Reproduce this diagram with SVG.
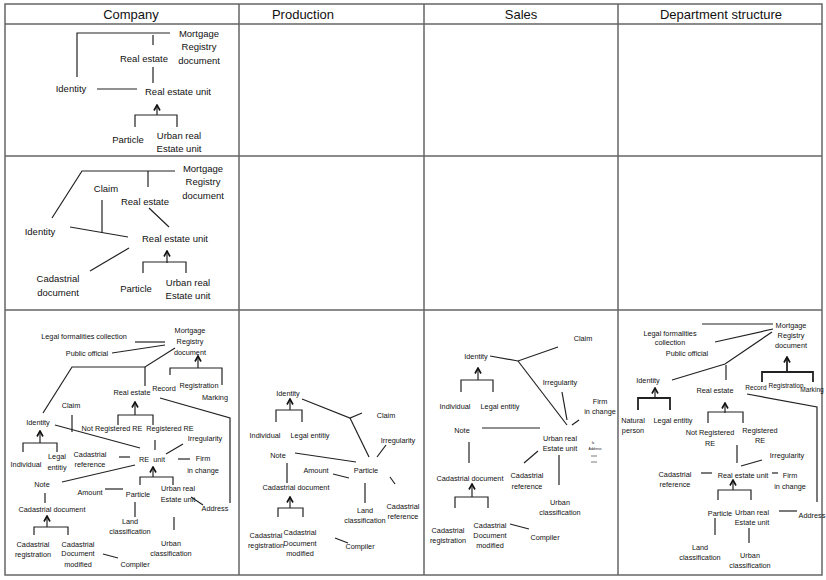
<svg xmlns="http://www.w3.org/2000/svg" width="826" height="580" viewBox="0 0 826 580">
<style>
text{font-family:"Liberation Sans",Arial,sans-serif;fill:#111;text-anchor:middle;dominant-baseline:central}
.h{font-size:13px}
.m{font-size:9.5px}
.t{font-size:7.3px}
.n{font-size:6.6px}
.s{font-size:3.5px}
.grid{fill:none;stroke:#666;stroke-width:1.5}
.c path,.c line{fill:none;stroke:#222;stroke-width:1.2}
.c .b{stroke-width:1.8}
</style>
<defs>
<marker id="up" markerUnits="userSpaceOnUse" markerWidth="8" markerHeight="8" viewBox="0 0 8 8" refX="6.5" refY="4" orient="auto"><path d="M1,1 L6.5,4 L1,7" fill="none" stroke="#111" stroke-width="1.6"/></marker>
</defs>
<rect width="826" height="580" fill="#fff"/>
<g id="table">
<rect class="grid" x="5" y="4" width="817" height="571"/>
<path class="grid" d="M5,24 H822 M5,156 H822 M5,310 H822 M239,4 V575 M424,4 V575 M618,4 V575"/>
</g>
<g id="headers">
<text class="h" x="131" y="14">Company</text>
<text class="h" x="303" y="14">Production</text>
<text class="h" x="521" y="14">Sales</text>
<text class="h" x="721" y="14">Department structure</text>
</g>

<!-- Row 1 -->
<g id="r1-mortgage"><text class="m" x="199" y="33">Mortgage</text><text class="m" x="199" y="46">Registry</text><text class="m" x="199" y="60">document</text></g>
<g id="r1-realestate"><text class="m" x="144" y="58">Real estate</text></g>
<g id="r1-identity"><text class="m" x="71" y="88">Identity</text></g>
<g id="r1-reunit"><text class="m" x="178" y="91">Real estate unit</text></g>
<g id="r1-particle"><text class="m" x="128" y="139">Particle</text></g>
<g id="r1-urban"><text class="m" x="179" y="135">Urban real</text><text class="m" x="179" y="148">Estate unit</text></g>
<g id="r1-connectors" class="c">
<path d="M77,77 V33 H170"/>
<path d="M153,35 V45"/>
<path d="M153,67 V83"/>
<path d="M97,89 H137"/>
<line x1="157" y1="115" x2="157" y2="105" marker-end="url(#up)"/>
<path d="M135,127 V115 H177 V127"/>
</g>

<!-- Row 2 -->
<g id="r2-mortgage"><text class="m" x="203" y="168">Mortgage</text><text class="m" x="203" y="181">Registry</text><text class="m" x="203" y="195">document</text></g>
<g id="r2-claim"><text class="m" x="106" y="188">Claim</text></g>
<g id="r2-realestate"><text class="m" x="145" y="201">Real estate</text></g>
<g id="r2-identity"><text class="m" x="40" y="231">Identity</text></g>
<g id="r2-reunit"><text class="m" x="175" y="238">Real estate unit</text></g>
<g id="r2-cadastrial"><text class="m" x="58" y="278">Cadastrial</text><text class="m" x="58" y="292">document</text></g>
<g id="r2-particle"><text class="m" x="136" y="288">Particle</text></g>
<g id="r2-urban"><text class="m" x="188" y="282">Urban real</text><text class="m" x="188" y="295">Estate unit</text></g>
<g id="r2-connectors" class="c">
<path d="M52,218 L82,171 H175"/>
<path d="M148,171 V187"/>
<path d="M102,200 V233"/>
<path d="M70,227 L128,237"/>
<path d="M149,208 L169,227"/>
<path d="M129,248 L90,271"/>
<line x1="167" y1="263" x2="167" y2="251" marker-end="url(#up)"/>
<path d="M143,273 V262 H186 V273"/>
</g>

<!-- Row 3 Company -->
<g id="c-legal"><text class="t" x="84" y="336">Legal formalities collection</text></g>
<g id="c-public"><text class="t" x="87" y="353">Public official</text></g>
<g id="c-mortgage"><text class="t" x="190" y="330">Mortgage</text><text class="t" x="190" y="341">Registry</text><text class="t" x="190" y="352">document</text></g>
<g id="c-realestate"><text class="t" x="132" y="392">Real estate</text></g>
<g id="c-record"><text class="t" x="164" y="388">Record</text></g>
<g id="c-registration"><text class="t" x="199" y="385">Registration</text></g>
<g id="c-marking"><text class="t" x="215" y="397">Marking</text></g>
<g id="c-claim"><text class="t" x="71" y="405">Claim</text></g>
<g id="c-identity"><text class="t" x="38" y="422">Identity</text></g>
<g id="c-notreg"><text class="t" x="112" y="428">Not Registered RE</text></g>
<g id="c-reg"><text class="t" x="170" y="428">Registered RE</text></g>
<g id="c-irregularity"><text class="t" x="205" y="438">Irregularity</text></g>
<g id="c-individual"><text class="t" x="26" y="464">Individual</text></g>
<g id="c-legalentity"><text class="t" x="57" y="456">Legal</text><text class="t" x="57" y="467">entitiy</text></g>
<g id="c-cadref"><text class="t" x="90" y="454">Cadastrial</text><text class="t" x="90" y="464">reference</text></g>
<g id="c-reunit"><text class="t" x="152" y="459" xml:space="preserve">RE  unit</text></g>
<g id="c-firm"><text class="t" x="203" y="458">Firm</text><text class="t" x="203" y="470">in change</text></g>
<g id="c-note"><text class="t" x="42" y="484">Note</text></g>
<g id="c-amount"><text class="t" x="90" y="492">Amount</text></g>
<g id="c-particle"><text class="t" x="138" y="494">Particle</text></g>
<g id="c-urban"><text class="t" x="178" y="488">Urban real</text><text class="t" x="178" y="499">Estate unit</text></g>
<g id="c-address"><text class="t" x="215" y="508">Address</text></g>
<g id="c-caddoc"><text class="t" x="52" y="509">Cadastrial document</text></g>
<g id="c-land"><text class="t" x="130" y="521">Land</text><text class="t" x="130" y="531">classification</text></g>
<g id="c-urbanclass"><text class="t" x="171" y="543">Urban</text><text class="t" x="171" y="553">classification</text></g>
<g id="c-cadreg"><text class="t" x="33" y="544">Cadastrial</text><text class="t" x="33" y="554">registration</text></g>
<g id="c-caddocmod"><text class="t" x="78" y="544">Cadastrial</text><text class="t" x="78" y="553">Document</text><text class="t" x="78" y="564">modified</text></g>
<g id="c-compiler"><text class="t" x="135" y="564">Compiler</text></g>
<g id="c-connectors" class="c">
<path d="M135,342 H165"/>
<path d="M112,353 L165,345"/>
<path d="M175,348 L145,367 H72 L43,413"/>
<path d="M145,367 V386"/>
<path d="M170,375 V368 H222 V385"/>
<line x1="198" y1="368" x2="198" y2="356" marker-end="url(#up)"/>
<path d="M160,398 L230,418 V503"/>
<path d="M191,497 L203,505"/>
<path d="M72,415 V432"/>
<line x1="135" y1="415" x2="135" y2="402" marker-end="url(#up)"/>
<path d="M118,425 V415 H153 V425"/>
<path d="M55,425 L140,448"/>
<path d="M155,440 V450"/>
<path d="M183,444 L166,454"/>
<line x1="40" y1="443" x2="40" y2="431" marker-end="url(#up)"/>
<path d="M23,452 V443 H57 V452"/>
<path d="M119,457 H130"/>
<path d="M178,459 H190"/>
<path d="M135,465 L62,482"/>
<path d="M45,493 V503"/>
<line x1="153" y1="477" x2="153" y2="467" marker-end="url(#up)"/>
<path d="M140,485 V477 H173 V485"/>
<path d="M105,489 H123"/>
<path d="M135,502 V517"/>
<path d="M174,517 V530"/>
<line x1="47" y1="527" x2="47" y2="516" marker-end="url(#up)"/>
<path d="M34,535 V527 H68 V535"/>
<path d="M103,554 L118,558"/>
</g>

<!-- Row 3 Production -->
<g id="p-identity"><text class="t" x="288" y="393">Identity</text></g>
<g id="p-claim"><text class="t" x="386" y="415">Claim</text></g>
<g id="p-individual"><text class="t" x="265" y="435">Individual</text></g>
<g id="p-legalentity"><text class="t" x="310" y="435">Legal entitiy</text></g>
<g id="p-irregularity"><text class="t" x="398" y="440">Irregularity</text></g>
<g id="p-note"><text class="t" x="278" y="455">Note</text></g>
<g id="p-particle"><text class="t" x="366" y="470">Particle</text></g>
<g id="p-amount"><text class="t" x="316" y="470">Amount</text></g>
<g id="p-caddoc"><text class="t" x="296" y="487">Cadastrial document</text></g>
<g id="p-land"><text class="t" x="365" y="510">Land</text><text class="t" x="365" y="520">classification</text></g>
<g id="p-cadref"><text class="t" x="403" y="506">Cadastrial</text><text class="t" x="403" y="516">reference</text></g>
<g id="p-cadreg"><text class="t" x="266" y="535">Cadastrial</text><text class="t" x="266" y="545">registration</text></g>
<g id="p-caddocmod"><text class="t" x="300" y="532">Cadastrial</text><text class="t" x="300" y="543">Document</text><text class="t" x="300" y="553">modified</text></g>
<g id="p-compiler"><text class="t" x="360" y="546">Compiler</text></g>
<g id="p-connectors" class="c">
<path d="M302,399 L350,418 L362,413"/>
<path d="M350,418 L369,457"/>
<line x1="290" y1="410" x2="290" y2="399" marker-end="url(#up)"/>
<path d="M276,422 V410 H302 V422"/>
<path d="M386,445 L377,457"/>
<path d="M295,453 L356,462"/>
<path d="M333,474 L349,478"/>
<path d="M390,477 L395,484"/>
<path d="M287,463 V483"/>
<path d="M365,483 V503"/>
<line x1="290" y1="508" x2="290" y2="497" marker-end="url(#up)"/>
<path d="M278,517 V508 H303 V517"/>
<path d="M335,538 L348,543"/>
</g>

<!-- Row 3 Sales -->
<g id="s-claim"><text class="t" x="583" y="338">Claim</text></g>
<g id="s-identity"><text class="t" x="476" y="356">Identity</text></g>
<g id="s-individual"><text class="t" x="455" y="406">Individual</text></g>
<g id="s-legalentity"><text class="t" x="500" y="406">Legal entitiy</text></g>
<g id="s-irregularity"><text class="t" x="560" y="382">Irregularity</text></g>
<g id="s-firm"><text class="t" x="600" y="401">Firm</text><text class="t" x="600" y="411">in change</text></g>
<g id="s-note"><text class="t" x="462" y="430">Note</text></g>
<g id="s-urban"><text class="t" x="560" y="438">Urban real</text><text class="t" x="560" y="448">Estate unit</text></g>
<g id="s-isaddress"><text class="s" x="593" y="443">Is</text><text class="s" x="595" y="449">Address</text></g>
<g id="s-caddoc"><text class="t" x="470" y="478">Cadastrial document</text></g>
<g id="s-cadref"><text class="t" x="527" y="475">Cadastrial</text><text class="t" x="527" y="486">reference</text></g>
<g id="s-urbanclass"><text class="t" x="560" y="502">Urban</text><text class="t" x="560" y="512">classification</text></g>
<g id="s-cadreg"><text class="t" x="448" y="530">Cadastrial</text><text class="t" x="448" y="540">registration</text></g>
<g id="s-caddocmod"><text class="t" x="490" y="525">Cadastrial</text><text class="t" x="490" y="535">Document</text><text class="t" x="490" y="545">modified</text></g>
<g id="s-compiler"><text class="t" x="545" y="537">Compiler</text></g>
<g id="s-connectors" class="c">
<path d="M490,356 L518,361 L558,347"/>
<path d="M518,361 L567,425"/>
<line x1="478" y1="380" x2="478" y2="368" marker-end="url(#up)"/>
<path d="M461,392 V380 H493 V392"/>
<path d="M562,392 L567,420"/>
<path d="M572,425 L579,420"/>
<path d="M482,428 H540"/>
<path d="M469,442 V463"/>
<path d="M538,451 L524,463"/>
<path d="M559,455 V485"/>
<line x1="472" y1="497" x2="472" y2="484" marker-end="url(#up)"/>
<path d="M455,508 V497 H488 V508"/>
<path d="M510,524 L529,529"/>
<path d="M591,456 H597 M591,462 H597" style="stroke-width:0.6"/>
</g>

<!-- Row 3 Department structure -->
<g id="d-legal"><text class="t" x="670" y="333">Legal formalities</text><text class="t" x="670" y="342">collection</text></g>
<g id="d-public"><text class="t" x="687" y="353">Public official</text></g>
<g id="d-mortgage"><text class="t" x="791" y="325">Mortgage</text><text class="t" x="791" y="335">Registry</text><text class="t" x="791" y="345">document</text></g>
<g id="d-identity"><text class="t" x="648" y="380">Identity</text></g>
<g id="d-realestate"><text class="t" x="715" y="390">Real estate</text></g>
<g id="d-record"><text class="n" x="756" y="387">Record</text></g>
<g id="d-registration"><text class="n" x="786" y="385">Registration</text></g>
<g id="d-marking"><text class="n" x="812" y="389">Marking</text></g>
<g id="d-natural"><text class="t" x="633" y="420">Natural</text><text class="t" x="633" y="430">person</text></g>
<g id="d-legalentity"><text class="t" x="673" y="420">Legal entitiy</text></g>
<g id="d-notreg"><text class="t" x="710" y="432">Not Registered</text><text class="t" x="710" y="443">RE</text></g>
<g id="d-reg"><text class="t" x="760" y="430">Registered</text><text class="t" x="760" y="440">RE</text></g>
<g id="d-irregularity"><text class="t" x="787" y="455">Irregularity</text></g>
<g id="d-cadref"><text class="t" x="675" y="474">Cadastrial</text><text class="t" x="675" y="484">reference</text></g>
<g id="d-reunit"><text class="t" x="743" y="475">Real estate unit</text></g>
<g id="d-firm"><text class="t" x="790" y="475">Firm</text><text class="t" x="790" y="486">in change</text></g>
<g id="d-particle"><text class="t" x="720" y="513">Particle</text></g>
<g id="d-urban"><text class="t" x="752" y="512">Urban real</text><text class="t" x="752" y="522">Estate unit</text></g>
<g id="d-address"><text class="t" x="812" y="515">Address</text></g>
<g id="d-land"><text class="t" x="700" y="547">Land</text><text class="t" x="700" y="557">classification</text></g>
<g id="d-urbanclass"><text class="t" x="750" y="555">Urban</text><text class="t" x="750" y="565">classification</text></g>
<g id="d-connectors" class="c">
<path d="M702,324 H773"/>
<path d="M715,342 L773,329"/>
<path d="M672,380 L725,364 L772,332"/>
<path d="M726,365 V380"/>
<path class="b" d="M762,382 V372 H813 V382"/>
<line class="b" x1="787" y1="372" x2="787" y2="357" marker-end="url(#up)"/>
<path d="M747,394 L817,407 V502"/>
<path class="b" d="M638,410 V398 H670 V410"/>
<line x1="655" y1="398" x2="655" y2="388" marker-end="url(#up)"/>
<path d="M708,423 V412 H743 V423"/>
<line x1="725" y1="413" x2="725" y2="403" marker-end="url(#up)"/>
<path d="M737,445 V463"/>
<path d="M741,466 L762,460"/>
<path d="M701,473 H712"/>
<path d="M772,473 H778"/>
<path d="M718,500 V490 H751 V500"/>
<line x1="733" y1="490" x2="733" y2="480" marker-end="url(#up)"/>
<path d="M779,511 H797"/>
<path d="M715,518 V535"/>
<path d="M749,528 V543"/>
</g>
</svg>
